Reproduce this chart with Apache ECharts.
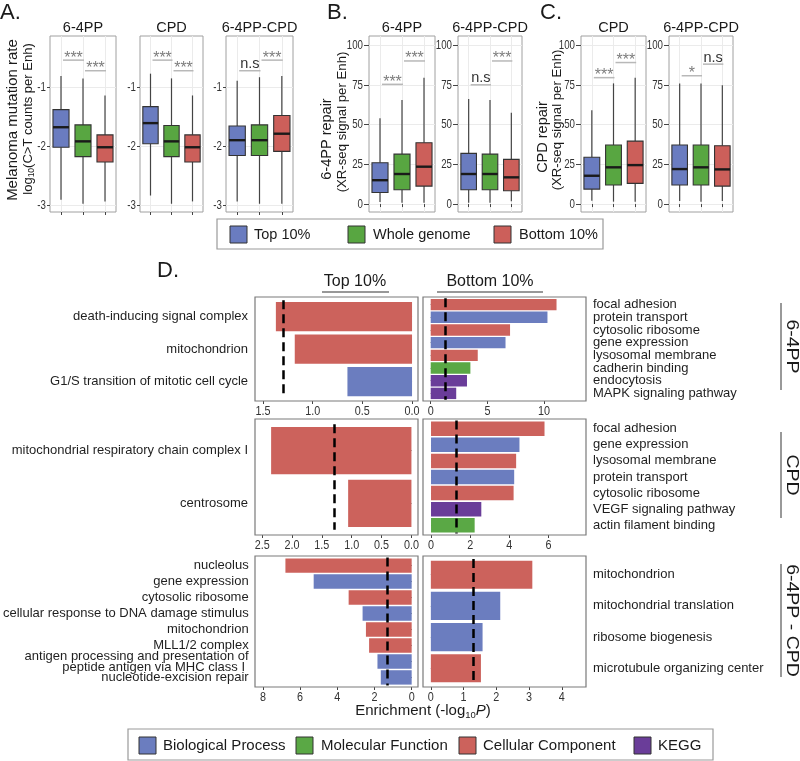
<!DOCTYPE html>
<html><head><meta charset="utf-8">
<script src="https://cdn.jsdelivr.net/npm/echarts@6/dist/echarts.min.js"></script>
<style>html,body{margin:0;padding:0;background:#fff}#chart{width:800px;height:761px}</style>
</head><body><div id="chart"></div>
<script>
// ---------------- DATA ----------------
const groups = ['Top 10%', 'Whole genome', 'Bottom 10%'];
// box stats: [whisker low, Q1, median, Q3, whisker high]
const melanoma_64PP    = [[-2.91,-2.02,-1.68,-1.38,-0.81],[-2.98,-2.18,-1.92,-1.64,-0.85],[-2.94,-2.27,-2.02,-1.81,-1.14]];
const melanoma_CPD     = [[-2.84,-1.96,-1.61,-1.33,-0.77],[-2.98,-2.18,-1.92,-1.65,-0.85],[-2.94,-2.27,-2.02,-1.81,-1.14]];
const melanoma_64PPCPD = [[-2.94,-2.16,-1.90,-1.66,-0.89],[-2.98,-2.16,-1.90,-1.64,-0.83],[-2.98,-2.09,-1.79,-1.48,-0.81]];
const repair64_64PP    = [[1.3,7.3,15.0,26.0,53.9],[0.8,9.0,18.9,31.4,65.4],[0.8,11.3,23.5,38.6,79.5]];
const repair64_64PPCPD = [[0.8,9.0,18.9,31.9,66.0],[0.8,9.0,18.9,31.4,65.4],[1.7,8.4,16.8,28.1,57.4]];
const repairCPD_CPD    = [[2.1,9.4,17.8,29.4,59.0],[1.5,12.0,23.1,37.1,75.9],[1.5,13.0,24.5,39.6,79.5]];
const repairCPD_64PPCPD= [[1.9,12.0,22.0,37.1,75.9],[1.5,12.0,23.1,37.1,75.9],[1.9,11.3,21.8,36.7,74.8]];
// significance: [group a, group b, height, label]
const sig_A_64PP    = [[0,1,-0.54,'***'],[1,2,-0.72,'***']];
const sig_A_CPD     = [[0,1,-0.54,'***'],[1,2,-0.72,'***']];
const sig_A_64PPCPD = [[0,1,-0.72,'n.s'],[1,2,-0.54,'***']];
const sig_B_64PP    = [[0,1,75.3,'***'],[1,2,90,'***']];
const sig_B_64PPCPD = [[0,1,75,'n.s'],[1,2,90,'***']];
const sig_C_CPD     = [[0,1,79.5,'***'],[1,2,89,'***']];
const sig_C_64PPCPD = [[0,1,80.7,'*'],[1,2,88,'n.s']];
const ticksA = [-3,-2,-1];
const ticksBC = [0,25,50,75,100];

// Panel D: enrichment (-log10 P)
const THRESH = 1.30;
const d64_top_terms = ['death-inducing signal complex','mitochondrion','G1/S transition of mitotic cell cycle'];
const d64_top_vals  = [1.37,1.18,0.65];
const d64_top_types = ['CC','CC','BP'];
const d64_bot_terms = ['focal adhesion','protein transport','cytosolic ribosome','gene expression','lysosomal membrane','cadherin binding','endocytosis','MAPK signaling pathway'];
const d64_bot_vals  = [11.1,10.3,7.0,6.6,4.15,3.5,3.2,2.25];
const d64_bot_types = ['CC','BP','CC','BP','CC','MF','KEGG','KEGG'];
const dCPD_top_terms = ['mitochondrial respiratory chain complex I','centrosome'];
const dCPD_top_vals  = [2.35,1.06];
const dCPD_top_types = ['CC','CC'];
const dCPD_bot_terms = ['focal adhesion','gene expression','lysosomal membrane','protein transport','cytosolic ribosome','VEGF signaling pathway','actin filament binding'];
const dCPD_bot_vals  = [5.8,4.52,4.35,4.25,4.22,2.57,2.23];
const dCPD_bot_types = ['CC','BP','CC','BP','CC','KEGG','MF'];
const dDiff_top_terms = ['nucleolus','gene expression','cytosolic ribosome','cellular response to DNA damage stimulus','mitochondrion','MLL1/2 complex','antigen processing and presentation of\npeptide antigen via MHC class I ','nucleotide-excision repair'];
const dDiff_top_vals  = [6.79,5.27,3.39,2.64,2.46,2.29,1.84,1.66];
const dDiff_top_types = ['CC','BP','CC','BP','CC','CC','BP','BP'];
const dDiff_bot_terms = ['mitochondrion','mitochondrial translation','ribosome biogenesis','microtubule organizing center'];
const dDiff_bot_vals  = [3.1,2.12,1.58,1.53];
const dDiff_bot_types = ['CC','BP','BP','CC'];
const typeNames = {BP:'Biological Process', MF:'Molecular Function', CC:'Cellular Component', KEGG:'KEGG'};

// ---------------- STYLE ----------------
const FONT = '"Liberation Sans", Arial, sans-serif';
const GROUP_COLORS = ['#6a7cc0', '#58a641', '#cc5f5a'];
const TYPE_COLORS = {BP:'#6b7dbf', MF:'#5aa845', CC:'#cc625c', KEGG:'#6a3d99'};

const grids = [], xAxes = [], yAxes = [], series = [], graphics = [];
const boxPanels = [], barPanels = [];

function boxRender(params, api) {
  const i = api.value(0);
  const p = [1,2,3,4,5].map(k => api.coord([i, api.value(k)]));
  const band = api.size([1, 0])[0];
  const w = band * 0.73;
  const cx = p[0][0];
  return {type:'group', children:[
    {type:'line', shape:{x1:cx,y1:p[0][1],x2:cx,y2:p[1][1]}, style:{stroke:'#444', lineWidth:1.2}},
    {type:'line', shape:{x1:cx,y1:p[3][1],x2:cx,y2:p[4][1]}, style:{stroke:'#444', lineWidth:1.2}},
    {type:'rect', shape:{x:cx-w/2, y:p[3][1], width:w, height:p[1][1]-p[3][1]}, style:{fill:GROUP_COLORS[i], stroke:'#333', lineWidth:1.1}},
    {type:'line', shape:{x1:cx-w/2, y1:p[2][1], x2:cx+w/2, y2:p[2][1]}, style:{stroke:'#1a1a1a', lineWidth:2.4}}
  ]};
}
function makeSig(sigs) {
  return function(params, api) {
    const a = api.coord([api.value(0), api.value(2)]);
    const b = api.coord([api.value(1), api.value(2)]);
    const lab = sigs[params.dataIndex][3];
    const star = lab.indexOf('*') >= 0;
    return {type:'group', children:[
      {type:'line', shape:{x1:a[0]+2, y1:a[1], x2:b[0]+1, y2:b[1]}, style:{stroke:'#b8b8b8', lineWidth:1.5}},
      {type:'text', x:(a[0]+b[0])/2+1.5, y:a[1] - (star ? 2 : 6.5),
       style:{text:lab, align:'center', verticalAlign:'middle', fontSize: star ? 16 : 14.5, fill: star ? '#7d7d7d' : '#333', fontFamily:FONT}}
    ]};
  };
}
function addBoxPanel(rect, yRange, yTicks, boxes, sigs, title, tickLen) {
  const gi = grids.length;
  grids.push({left:rect[0], top:rect[1], width:rect[2], height:rect[3], show:true, borderColor:'#a0a0a0', borderWidth:1});
  xAxes.push({type:'category', gridIndex:gi, data:groups, axisLine:{show:false},
    axisTick:{show:true, interval:0, alignWithLabel:true, length:3, lineStyle:{color:'#444'}}, axisLabel:{show:false, interval:0},
    splitLine:{show:true, interval:0, alignWithLabel:true, lineStyle:{color:'#ebebeb'}}});
  yAxes.push({type:'value', gridIndex:gi, min:yRange[0], max:yRange[1], axisLine:{show:false},
    axisTick:{show:true, length:tickLen, customValues:yTicks, lineStyle:{color:'#444'}},
    axisLabel:{show:false, customValues:yTicks},
    splitLine:{show:true, lineStyle:{color:'#ebebeb'}}});
  series.push({type:'custom', xAxisIndex:gi, yAxisIndex:gi, renderItem:boxRender, encode:{x:0, y:[1,2,3,4,5]},
    data: boxes.map((b, i) => [i].concat(b)), z:3, silent:true});
  series.push({type:'custom', xAxisIndex:gi, yAxisIndex:gi, renderItem:makeSig(sigs), encode:{x:[0,1], y:2},
    data: sigs.map(s => [s[0], s[1], s[2]]), z:4, silent:true});
  graphics.push({type:'text', x:rect[0]+rect[2]/2, y:rect[1]-8, style:{text:title, align:'center', verticalAlign:'middle', fontSize:14.5, fill:'#1a1a1a', fontFamily:FONT}});
  boxPanels.push({gi:gi, left:rect[0], ticks:yTicks, gap:tickLen + 1});
}
const rA = [-3.12, -0.13], rBC = [-5, 105.7];
addBoxPanel([50,36,66,176], rA, ticksA, melanoma_64PP, sig_A_64PP, '6-4PP', 3);
addBoxPanel([140,36,63,176], rA, ticksA, melanoma_CPD, sig_A_CPD, 'CPD', 3);
addBoxPanel([226,36,67,176], rA, ticksA, melanoma_64PPCPD, sig_A_64PPCPD, '6-4PP-CPD', 3);
addBoxPanel([369,36,66,176], rBC, ticksBC, repair64_64PP, sig_B_64PP, '6-4PP', 5);
addBoxPanel([458,36,64,176], rBC, ticksBC, repair64_64PPCPD, sig_B_64PPCPD, '6-4PP-CPD', 5);
addBoxPanel([581,36,65,176], rBC, ticksBC, repairCPD_CPD, sig_C_CPD, 'CPD', 5);
addBoxPanel([669,36,64,176], rBC, ticksBC, repairCPD_64PPCPD, sig_C_64PPCPD, '6-4PP-CPD', 5);

function addBarPanel(frame, side, terms, vals, types, xRange, xTicks, fmt) {
  const n = terms.length;
  const band = frame[3] / (n + 0.2);
  const pad = band * 0.1;
  graphics.push({type:'rect', shape:{x:frame[0], y:frame[1], width:frame[2], height:frame[3]},
    style:{fill:null, stroke:'#7a7a7a', lineWidth:1.2}, z:10});
  const gi = grids.length;
  grids.push({left:frame[0], top:frame[1]+pad, width:frame[2], height:band*n});
  xAxes.push({type:'value', gridIndex:gi, min:xRange[0], max:xRange[1], inverse: side === 'left', offset:pad,
    axisLine:{show:false}, splitLine:{show:false},
    axisTick:{show:true, length:3, customValues:xTicks, lineStyle:{color:'#444'}},
    axisLabel:{show:false, customValues:xTicks}});
  yAxes.push({type:'category', gridIndex:gi, data:terms, inverse:true, position:side,
    axisLine:{show:false}, splitLine:{show:false},
    axisTick:{show:true, interval:0, length:4, alignWithLabel:true, lineStyle:{color:'#444'}},
    axisLabel:{interval:0, fontSize:13, color:'#1f1f1f', margin:7, lineHeight:11, fontFamily:FONT}});
  series.push({type:'bar', xAxisIndex:gi, yAxisIndex:gi, barCategoryGap:'10%', silent:true,
    data: vals.map((v, i) => ({value:v, name:terms[i], itemStyle:{color:TYPE_COLORS[types[i]]}})),
    markLine:{silent:true, symbol:'none', label:{show:false},
      lineStyle:{color:'#000', width:2.5, type:[9,5]}, data:[{xAxis:THRESH}]}});
  barPanels.push({gi:gi, bottom:frame[1]+frame[3], ticks:xTicks, fmt:fmt});
}
const f1 = v => Number(v).toFixed(1), f0 = v => String(v);
addBarPanel([255,297,163,104], 'left', d64_top_terms, d64_top_vals, d64_top_types, [-0.06,1.58], [0,0.5,1,1.5], f1);
addBarPanel([423,297,163,104], 'right', d64_bot_terms, d64_bot_vals, d64_bot_types, [-0.68,13.7], [0,5,10], f0);
addBarPanel([255,419,163,116], 'left', dCPD_top_terms, dCPD_top_vals, dCPD_top_types, [-0.11,2.62], [0,0.5,1,1.5,2,2.5], f1);
addBarPanel([423,419,163,116], 'right', dCPD_bot_terms, dCPD_bot_vals, dCPD_bot_types, [-0.41,7.92], [0,2,4,6], f0);
addBarPanel([255,556,163,131], 'left', dDiff_top_terms, dDiff_top_vals, dDiff_top_types, [-0.34,8.39], [0,2,4,6,8], f0);
addBarPanel([423,556,163,131], 'right', dDiff_bot_terms, dDiff_bot_vals, dDiff_bot_types, [-0.24,4.74], [0,1,2,3,4], f0);

// ---------------- TEXT / LEGENDS ----------------
function txt(x, y, text, size, opts) {
  return Object.assign({type:'text', x:x, y:y, style:Object.assign({text:text, fontSize:size, fill:'#1a1a1a', fontFamily:FONT, align:'left', verticalAlign:'middle'}, (opts && opts.style) || {})}, (opts && opts.el) || {});
}
function line(x1, y1, x2, y2, color, w) {
  return {type:'line', shape:{x1:x1,y1:y1,x2:x2,y2:y2}, style:{stroke:color || '#555', lineWidth:w || 1.2}};
}
const R90 = Math.PI / 2;
graphics.push(txt(0, 13, 'A.', 22));
graphics.push(txt(327, 13, 'B.', 22));
graphics.push(txt(540, 13, 'C.', 22));
graphics.push(txt(157, 271, 'D.', 22));
graphics.push(txt(13, 120, 'Melanoma mutation rate', 15, {style:{align:'center'}, el:{rotation:R90}}));
graphics.push({type:'text', x:28, y:119, rotation:R90, style:{
  text:'{a|log}{s|10}{a|(C>T counts per Enh)}', align:'center', verticalAlign:'middle', fontFamily:FONT, fill:'#1a1a1a',
  rich:{a:{fontSize:13, lineHeight:16, fontFamily:FONT}, s:{fontSize:8.5, lineHeight:7, verticalAlign:'bottom', fontFamily:FONT}}}});
graphics.push(txt(327, 139, '6-4PP repair', 14.5, {style:{align:'center'}, el:{rotation:R90}}));
graphics.push(txt(342, 122, '(XR-seq signal per Enh)', 13.2, {style:{align:'center'}, el:{rotation:R90}}));
graphics.push(txt(543, 137, 'CPD repair', 14.5, {style:{align:'center'}, el:{rotation:R90}}));
graphics.push(txt(557, 120, '(XR-seq signal per Enh)', 13.2, {style:{align:'center'}, el:{rotation:R90}}));

graphics.push({type:'rect', shape:{x:217, y:219, width:386, height:30}, style:{fill:'#fff', stroke:'#9a9a9a', lineWidth:1.2}});
const legA = [[230, 254], [348, 373], [494, 519]];
groups.forEach((g, i) => {
  graphics.push({type:'rect', shape:{x:legA[i][0], y:226, width:17, height:17}, style:{fill:GROUP_COLORS[i], stroke:'#333', lineWidth:1}});
  graphics.push(txt(legA[i][1], 235, g, 14.5));
});
graphics.push(txt(355, 282, 'Top 10%', 16, {style:{align:'center'}}));
graphics.push(line(322, 292, 389, 292, '#333', 1.2));
graphics.push(txt(490, 282, 'Bottom 10%', 16, {style:{align:'center'}}));
graphics.push(line(437, 292, 543, 292, '#333', 1.2));
[[303, 390, '6-4PP'], [432, 518, 'CPD'], [564, 677, '6-4PP - CPD']].forEach(r => {
  graphics.push(line(781, r[0], 781, r[1], '#555', 1.2));
  graphics.push(txt(791, (r[0]+r[1])/2, r[2], 19.5, {style:{align:'center'}, el:{rotation:-R90, scaleY:0.8}}));
});
graphics.push({type:'text', x:423, y:711, style:{
  text:'{a|Enrichment (-log}{s|10}{i|P}{a|)}', align:'center', verticalAlign:'middle', fontFamily:FONT, fill:'#1a1a1a',
  rich:{a:{fontSize:15, lineHeight:18, fontFamily:FONT}, s:{fontSize:9.5, lineHeight:7, verticalAlign:'bottom', fontFamily:FONT}, i:{fontSize:15, lineHeight:18, fontStyle:'italic', fontFamily:FONT}}}});
graphics.push({type:'rect', shape:{x:128, y:729, width:585, height:31}, style:{fill:'#fff', stroke:'#9a9a9a', lineWidth:1.2}});
const legD = [['BP', 139, 163], ['MF', 296, 321], ['CC', 459, 483], ['KEGG', 634, 658]];
legD.forEach(l => {
  graphics.push({type:'rect', shape:{x:l[1], y:737, width:17, height:17}, style:{fill:TYPE_COLORS[l[0]], stroke:'#333', lineWidth:1}});
  graphics.push(txt(l[2], 746, typeNames[l[0]], 15));
});

const chart = echarts.init(document.getElementById('chart'), null, {renderer:'canvas'});
chart.setOption({
  animation:false,
  backgroundColor:'#fff',
  textStyle:{fontFamily:FONT},
  grid:grids, xAxis:xAxes, yAxis:yAxes, series:series,
  graphic:{elements:graphics}
});

// condensed tick labels placed through the axes' own scales
const tickTexts = [];
boxPanels.forEach(p => {
  p.ticks.forEach(v => {
    const y = chart.convertToPixel({yAxisIndex:p.gi}, v);
    tickTexts.push({type:'text', x:p.left - p.gap, y:y, scaleX:0.72,
      style:{text:String(v), align:'right', verticalAlign:'middle', fontSize:13.5, fill:'#333', fontFamily:FONT}});
  });
});
barPanels.forEach(p => {
  p.ticks.forEach(v => {
    const x = chart.convertToPixel({xAxisIndex:p.gi}, v);
    tickTexts.push({type:'text', x:x, y:p.bottom + 10.5, scaleX:0.8,
      style:{text:p.fmt(v), align:'center', verticalAlign:'middle', fontSize:13.5, fill:'#333', fontFamily:FONT}});
  });
});
chart.setOption({graphic:{elements:graphics.concat(tickTexts)}});
</script></body></html>
